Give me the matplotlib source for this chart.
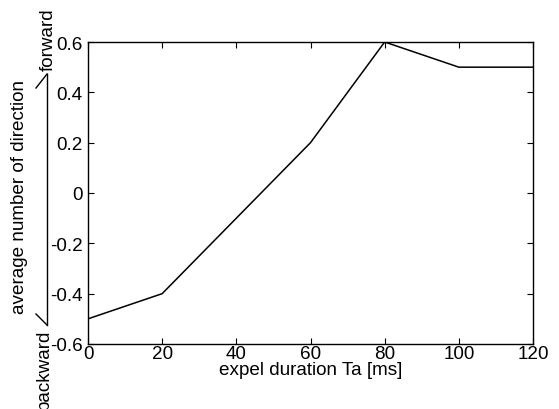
import matplotlib
matplotlib.use("Agg")
import matplotlib.pyplot as plt
from matplotlib.lines import Line2D

# ----------------------
# DATA
# ----------------------
duration_ms = [0, 20, 40, 60, 80, 100, 120]
avg_direction = [-0.5, -0.4, -0.1, 0.2, 0.6, 0.5, 0.5]
x_ticks = [0, 20, 40, 60, 80, 100, 120]
y_ticks = [-0.6, -0.4, -0.2, 0, 0.2, 0.4, 0.6]
y_tick_labels = ["-0.6", "-0.4", "-0.2", "0", "0.2", "0.4", "0.6"]

plt.rcParams["font.family"] = ["Liberation Sans", "DejaVu Sans"]
FS = 13.6

W, H = 559, 410
fig = plt.figure(figsize=(W / 100, H / 100), dpi=100)
ax = fig.add_axes([88 / W, 1 - 345 / H, (533 - 88) / W, (345 - 43) / H])

ax.plot(duration_ms, avg_direction, color="black", linewidth=1.1)

ax.set_xlim(0, 120)
ax.set_ylim(-0.6, 0.6)
ax.set_xticks(x_ticks)
ax.set_yticks(y_ticks)
ax.set_yticklabels(y_tick_labels)
ax.tick_params(direction="in", length=4, width=0.8, labelsize=FS,
               top=True, right=True)
ax.tick_params(axis="x", pad=1)
ax.tick_params(axis="y", pad=4)
for s in ax.spines.values():
    s.set_linewidth(1.0)

ax.set_xlabel("expel duration Ta [ms]", fontsize=FS, labelpad=-1)

# ------------------------------------------------------
# Y LABEL WITH BACKWARD / FORWARD ARROW
# ------------------------------------------------------
def fx(px):
    return px / W

def fy(py):
    return 1 - py / H

fig.text(fx(20), fy(197), "average number of direction", rotation=90,
         ha="center", va="center", fontsize=FS)
fig.text(fx(48), fy(40), "forward", rotation=90,
         ha="center", va="center", fontsize=FS)
fig.text(fx(44), fy(370), "backward", rotation=90,
         ha="center", va="center", fontsize=FS)

arrow_x = 47
fig.add_artist(Line2D([fx(arrow_x), fx(arrow_x)], [fy(75), fy(326)],
                      color="black", linewidth=1.0))
fig.add_artist(Line2D([fx(arrow_x), fx(36)], [fy(75), fy(89)],
                      color="black", linewidth=1.0))
fig.add_artist(Line2D([fx(arrow_x), fx(36)], [fy(326), fy(315)],
                      color="black", linewidth=1.0))

fig.savefig("out.png", dpi=100)
